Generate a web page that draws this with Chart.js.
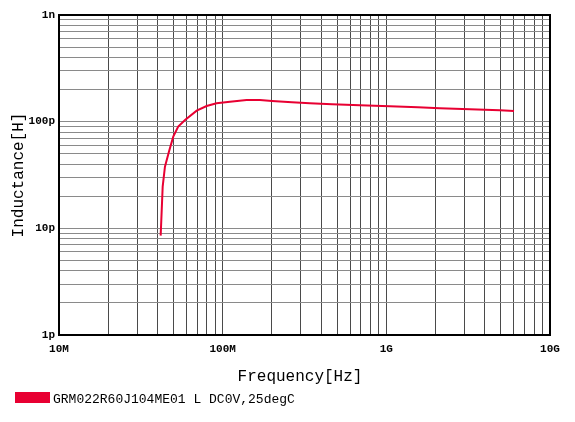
<!DOCTYPE html>
<html>
<head>
<meta charset="utf-8">
<script src="https://cdn.jsdelivr.net/npm/chart.js@4"></script>
<style>
  body { margin: 0; background: #fff; }
  #wrap { width: 575px; height: 422px; }
</style>
</head>
<body>
<div id="wrap"><canvas id="chartL" width="575" height="422"></canvas></div>
<script>
// frequency in MHz, inductance in pH
const freqMHz = [41.8, 43.0, 44.4, 47.0, 49.9, 53.5, 58.9, 69.4, 79.8, 91.8, 110.8, 140,
                 169, 200, 265, 341, 466, 690, 1050, 1560, 2120, 3240, 4940, 6030]
const inductancePH = [8.55, 24.6, 37.8, 52.4, 72.4, 89.8, 103.7, 126.8, 140.3, 148.6, 153.8, 159.7,
                      159.7, 156.3, 152, 148.6, 145.5, 142.5, 139.4, 136.4, 133.5, 130.7, 127.9, 126]

const xDecades = [10, 100, 1000, 10000]
const xDecadeLabels = ['10M', '100M', '1G', '10G']
const yDecades = [1, 10, 100, 1000]
const yDecadeLabels = ['1p', '10p', '100p', '1n']

const seriesName = 'GRM022R60J104ME01 L DC0V,25degC'
const xTitle = 'Frequency[Hz]'
const yTitle = 'Inductance[H]'

const lineColor = 'rgb(232,0,50)'
const monoFont = '"Courier New", "Liberation Mono", monospace'

// grid values 1..9 per decade
const gridValues = (decades) => {
    const out = []
    for (let i = 0; i < decades.length - 1; i++) {
        for (let k = 1; k < 10; k++) out.push(decades[i] * k)
    }
    out.push(decades[decades.length - 1])
    return out
}

const decadeLabel = (decades, labels) => (value) => {
    const i = decades.findIndex(d => Math.abs(d - value) / d < 1e-6)
    return i >= 0 ? labels[i] : ''
}

const frame = {
    id: 'frame',
    beforeDatasetsDraw(chart) {
        const a = chart.chartArea
        const ctx = chart.ctx
        ctx.save()
        ctx.strokeStyle = '#000'
        ctx.lineWidth = 2
        ctx.strokeRect(a.left, a.top, a.right - a.left, a.bottom - a.top)
        ctx.restore()
    },
    afterDraw(chart) {
        const a = chart.chartArea
        const ctx = chart.ctx
        ctx.save()
        ctx.fillStyle = '#000'
        ctx.font = '16px ' + monoFont
        ctx.textAlign = 'center'
        ctx.textBaseline = 'middle'
        ctx.fillText(xTitle, 300, 377)
        ctx.translate(19, (a.top + a.bottom) / 2)
        ctx.rotate(-Math.PI / 2)
        ctx.fillText(yTitle, 0, 0)
        ctx.restore()

        ctx.save()
        ctx.fillStyle = lineColor
        ctx.fillRect(15, 392, 35, 11)
        ctx.fillStyle = '#000'
        ctx.font = '13px ' + monoFont
        ctx.textAlign = 'left'
        ctx.textBaseline = 'alphabetic'
        ctx.fillText(seriesName, 53, 403)
        ctx.restore()
    }
}

new Chart(document.getElementById('chartL'), {
    type: 'scatter',
    data: {
        datasets: [{
            label: seriesName,
            data: freqMHz.map((f, i) => ({ x: f, y: inductancePH[i] })),
            showLine: true,
            borderColor: lineColor,
            backgroundColor: lineColor,
            borderWidth: 2,
            pointRadius: 0,
            tension: 0,
        }],
    },
    options: {
        responsive: false,
        animation: false,
        layout: { padding: { left: 0, top: 15, right: 25, bottom: 0 } },
        plugins: { legend: { display: false }, tooltip: { enabled: false } },
        scales: {
            x: {
                type: 'logarithmic',
                min: 10,
                max: 10000,
                afterBuildTicks: (s) => { s.ticks = gridValues(xDecades).map(v => ({ value: v })) },
                afterFit: (s) => { s.height = 87 },
                grid: { color: '#4a4a4a', lineWidth: 1, drawTicks: false },
                border: { display: false },
                ticks: {
                    autoSkip: false,
                    maxRotation: 0,
                    padding: 8,
                    color: '#000',
                    font: { family: monoFont, size: 11, weight: 'bold' },
                    callback: decadeLabel(xDecades, xDecadeLabels),
                },
            },
            y: {
                type: 'logarithmic',
                min: 1,
                max: 1000,
                afterBuildTicks: (s) => { s.ticks = gridValues(yDecades).map(v => ({ value: v })) },
                afterFit: (s) => { s.width = 59 },
                grid: { color: '#8a8a8a', lineWidth: 1, drawTicks: false },
                border: { display: false },
                ticks: {
                    autoSkip: false,
                    padding: 4,
                    color: '#000',
                    font: { family: monoFont, size: 11, weight: 'bold' },
                    callback: decadeLabel(yDecades, yDecadeLabels),
                },
            },
        },
    },
    plugins: [frame],
})
</script>
</body>
</html>
